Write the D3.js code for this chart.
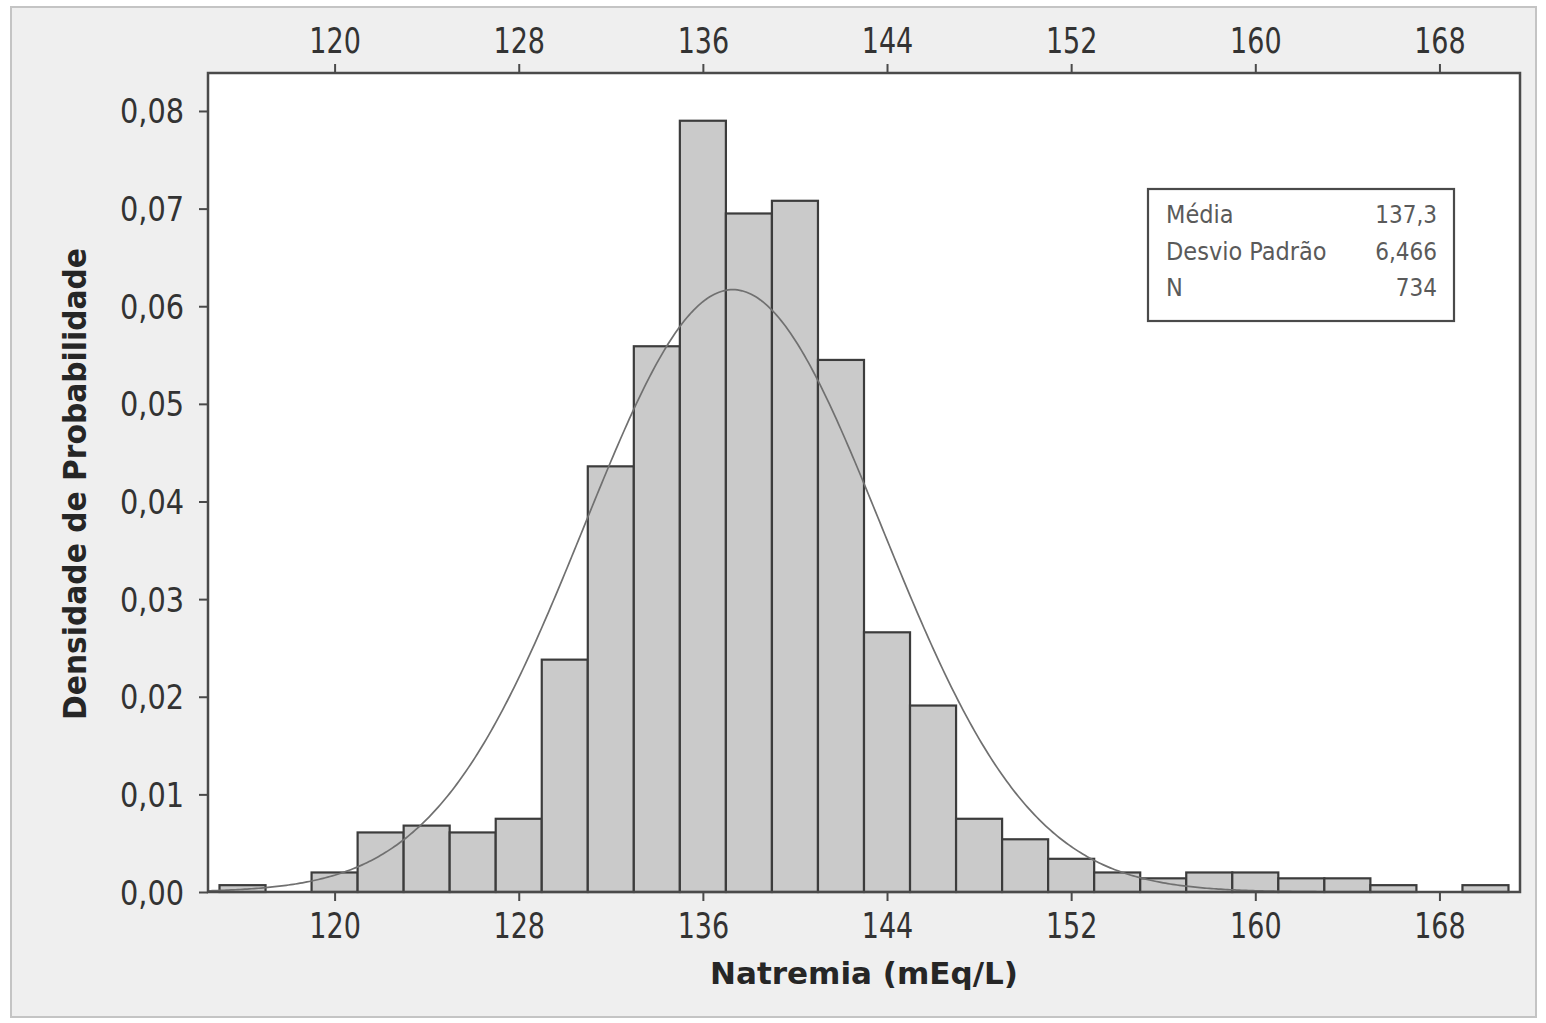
<!DOCTYPE html>
<html>
<head>
<meta charset="utf-8">
<script src="https://cdn.jsdelivr.net/npm/d3@7"></script>
<style>
  body { margin: 0; background: #ffffff; }
  svg { display: block; }
</style>
</head>
<body>
<svg id="chart"></svg>
<script>
// histogram of natremia, bins of width 2 centred on even values
const binCenters = [116, 118, 120, 122, 124, 126, 128, 130, 132, 134, 136, 138, 140, 142,
                    144, 146, 148, 150, 152, 154, 156, 158, 160, 162, 164, 166, 168, 170];
const densities  = [0.0007, 0, 0.0020, 0.0061, 0.0068, 0.0061, 0.0075, 0.0238, 0.0436, 0.0559,
                    0.0790, 0.0695, 0.0708, 0.0545, 0.0266, 0.0191, 0.0075, 0.0054, 0.0034, 0.0020,
                    0.0014, 0.0020, 0.0020, 0.0014, 0.0014, 0.0007, 0, 0.0007];
const binWidth = 2;

const xTicks = [120, 128, 136, 144, 152, 160, 168];
const yTicks = [0, 0.01, 0.02, 0.03, 0.04, 0.05, 0.06, 0.07, 0.08];

const statLabels = ["Média", "Desvio Padrão", "N"];
const statValues = ["137,3", "6,466", "734"];
const mean = 137.3, sd = 6.466;

const width = 1546, height = 1023;
const plot = {left: 208, right: 1520, top: 73, bottom: 892};
const font = "'DejaVu Sans Condensed', 'DejaVu Sans', sans-serif";

const svg = d3.select("#chart")
    .attr("width", width)
    .attr("height", height);

// grey panel
svg.append("rect")
    .attr("x", 11).attr("y", 7)
    .attr("width", 1525).attr("height", 1010)
    .attr("fill", "#efefef")
    .attr("stroke", "#c4c4c4")
    .attr("stroke-width", 2);

const x = d3.scaleLinear()
    .domain([114.5, 171.5])
    .range([plot.left, plot.right]);

const y = d3.scaleLinear()
    .domain([0, 0.08389])
    .range([plot.bottom, plot.top]);

// plot area
svg.append("rect")
    .attr("x", plot.left).attr("y", plot.top)
    .attr("width", plot.right - plot.left)
    .attr("height", plot.bottom - plot.top)
    .attr("fill", "#ffffff");

svg.append("clipPath").attr("id", "clip")
  .append("rect")
    .attr("x", plot.left).attr("y", plot.top)
    .attr("width", plot.right - plot.left)
    .attr("height", plot.bottom - plot.top);

const bins = binCenters.map((c, i) => ({c: c, v: densities[i]})).filter(d => d.v > 0);

svg.append("g")
    .selectAll("rect")
    .data(bins)
  .enter().append("rect")
    .attr("x", d => x(d.c - binWidth / 2))
    .attr("y", d => y(d.v))
    .attr("width", d => x(d.c + binWidth / 2) - x(d.c - binWidth / 2))
    .attr("height", d => y(0) - y(d.v))
    .attr("fill", "#cacaca")
    .attr("stroke", "#3c3c3c")
    .attr("stroke-width", 2.2);

// fitted normal curve
const curveX = d3.range(114.5, 171.51, 0.1);
const normal = v => Math.exp(-0.5 * Math.pow((v - mean) / sd, 2)) / (sd * Math.sqrt(2 * Math.PI));

svg.append("path")
    .datum(curveX)
    .attr("clip-path", "url(#clip)")
    .attr("fill", "none")
    .attr("stroke", "#707070")
    .attr("stroke-width", 1.7)
    .attr("d", d3.line().x(d => x(d)).y(d => y(normal(d))));

// frame
svg.append("rect")
    .attr("x", plot.left).attr("y", plot.top)
    .attr("width", plot.right - plot.left)
    .attr("height", plot.bottom - plot.top)
    .attr("fill", "none")
    .attr("stroke", "#4a4a4a")
    .attr("stroke-width", 2.5);

function styleAxis(g) {
    g.select(".domain").remove();
    g.selectAll(".tick line").attr("stroke", "#4a4a4a").attr("stroke-width", 2);
    g.selectAll(".tick text")
        .attr("fill", "#333333")
        .style("font-family", font)
        .style("font-size", "30px");
}

const commaFmt = d => d3.format(".2f")(d).replace(".", ",");

const sx = 1.19;
const gTop = svg.append("g")
    .attr("transform", `translate(0,${plot.top})`)
    .call(d3.axisTop(x).tickValues(xTicks).tickSize(9).tickPadding(0))
    .call(styleAxis);
gTop.selectAll(".tick text")
    .attr("dy", null)
    .attr("y", -20 / sx)
    .attr("transform", `scale(1,${sx})`);

const gBottom = svg.append("g")
    .attr("transform", `translate(0,${plot.bottom})`)
    .call(d3.axisBottom(x).tickValues(xTicks).tickSize(9).tickPadding(0))
    .call(styleAxis);
gBottom.selectAll(".tick text")
    .attr("dy", null)
    .attr("y", 46 / sx)
    .attr("transform", `scale(1,${sx})`);

const sy = 1.08;
const gLeft = svg.append("g")
    .attr("transform", `translate(${plot.left},0)`)
    .call(d3.axisLeft(y).tickValues(yTicks).tickFormat(commaFmt).tickSize(9).tickPadding(0))
    .call(styleAxis);
gLeft.selectAll(".tick text")
    .attr("dy", null)
    .attr("x", -24)
    .attr("y", 12 / sy)
    .style("font-size", "32px")
    .attr("transform", `scale(1,${sy})`);

// axis titles
svg.append("text")
    .attr("x", 864).attr("y", 984)
    .attr("text-anchor", "middle")
    .attr("textLength", 308)
    .attr("lengthAdjust", "spacingAndGlyphs")
    .attr("fill", "#262626")
    .style("font-family", font)
    .style("font-weight", "bold")
    .style("font-size", "31px")
    .text("Natremia (mEq/L)");

svg.append("text")
    .attr("transform", "translate(86,484) rotate(-90)")
    .attr("text-anchor", "middle")
    .attr("textLength", 472)
    .attr("lengthAdjust", "spacingAndGlyphs")
    .attr("fill", "#262626")
    .style("font-family", font)
    .style("font-weight", "bold")
    .style("font-size", "32px")
    .text("Densidade de Probabilidade");

// statistics box
const box = svg.append("g");
box.append("rect")
    .attr("x", 1148).attr("y", 189)
    .attr("width", 306).attr("height", 132)
    .attr("fill", "#ffffff")
    .attr("stroke", "#4a4a4a")
    .attr("stroke-width", 2.2);

const rowY = d3.scalePoint().domain(statLabels).range([223, 296]);

box.selectAll(".lab")
    .data(statLabels)
  .enter().append("text")
    .attr("x", 1166)
    .attr("y", d => rowY(d))
    .attr("fill", "#5a5a5a")
    .style("font-family", font)
    .style("font-size", "25px")
    .text(d => d);

box.selectAll(".val")
    .data(statValues)
  .enter().append("text")
    .attr("x", 1437)
    .attr("y", (d, i) => rowY(statLabels[i]))
    .attr("text-anchor", "end")
    .attr("fill", "#5a5a5a")
    .style("font-family", font)
    .style("font-size", "24px")
    .text(d => d);
</script>
</body>
</html>
